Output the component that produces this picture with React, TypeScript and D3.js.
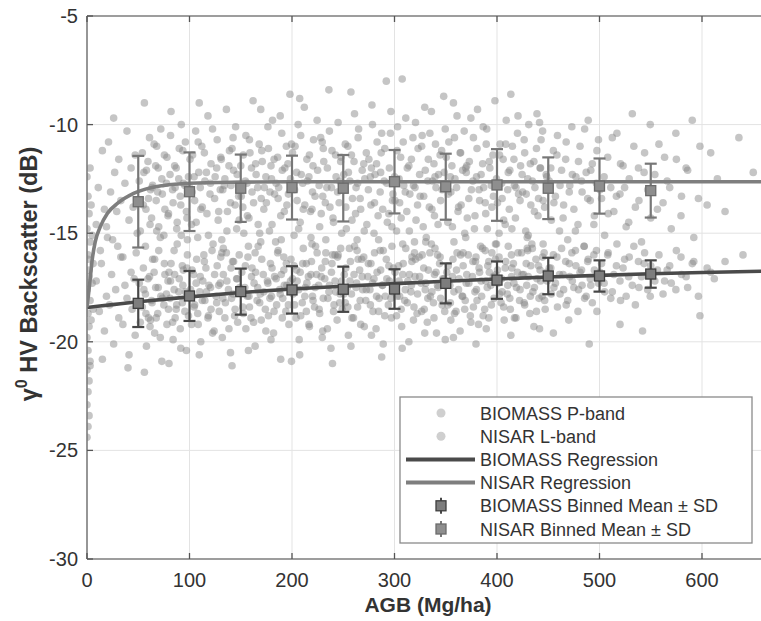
import React from "react";
import * as d3 from "d3";

const xTicks = [0, 100, 200, 300, 400, 500, 600];
const yTicks = [-30, -25, -20, -15, -10, -5];

const binX = [50, 100, 150, 200, 250, 300, 350, 400, 450, 500, 550];
const biomassMean = [-18.23, -17.89, -17.69, -17.61, -17.58, -17.57, -17.31, -17.16, -16.97, -16.97, -16.88];
const biomassSD = [1.09, 1.15, 1.06, 1.09, 1.04, 0.91, 0.92, 0.86, 0.84, 0.72, 0.63];
const nisarMean = [-13.55, -13.09, -12.93, -12.9, -12.93, -12.63, -12.86, -12.78, -12.93, -12.83, -13.04];
const nisarSD = [2.11, 1.81, 1.55, 1.47, 1.53, 1.46, 1.52, 1.65, 1.42, 1.27, 1.24];

const biomassRegX = [0, 25, 50, 100, 150, 200, 250, 300, 350, 400, 450, 500, 550, 600, 660];
const biomassRegY = [-18.42, -18.29, -18.16, -17.93, -17.73, -17.57, -17.44, -17.32, -17.21, -17.11, -17.02, -16.94, -16.87, -16.81, -16.75];
const nisarRegX = [0, 1.5, 3, 5, 8, 13, 20, 30, 46, 75, 100, 150, 200, 660];
const nisarRegY = [-18.4, -17.8, -17.15, -16.25, -15.4, -14.7, -14.08, -13.62, -13.16, -12.8, -12.7, -12.65, -12.63, -12.63];

const biomassPoints: [number, number][] = [
[1,-16.2],[2,-17.0],[0,-17.6],[3,-18.1],[1,-18.7],[2,-19.3],[0,-19.8],[1,-20.4],[3,-20.9],[0,-21.3],[2,-21.8],[1,-22.3],[0,-22.9],[2,-23.4],[1,-23.9],[4,-19.0],[5,-17.3],[3,-21.1],[0,-24.4],[6,-18.5],
[9,-17.2],[12,-18.6],[14,-16.4],[17,-19.5],[19,-17.9],[22,-18.3],[24,-16.9],[26,-20.1],[28,-17.6],[31,-18.9],[33,-16.1],[35,-19.2],[37,-17.4],[39,-18.0],[41,-20.6],[43,-16.8],[44,-18.5],[46,-17.1],[47,-19.7],[48,-15.9],[49,-18.2],[15,-20.8],[30,-15.6],[40,-21.2],[20,-15.2],
[51,-17.3],[52,-19.1],[54,-18.4],[55,-16.6],[57,-17.8],[58,-20.2],[60,-18.9],[61,-17.0],[63,-18.1],[64,-16.2],[66,-19.6],[67,-17.5],[69,-18.7],[70,-15.8],[72,-17.9],[73,-20.9],[75,-18.3],[76,-16.9],[78,-19.2],[79,-17.2],[81,-18.0],[82,-16.4],[84,-19.9],[85,-17.6],[87,-18.5],[88,-15.5],[90,-17.1],[91,-19.4],[93,-18.2],[94,-16.7],[96,-17.7],[97,-20.4],[99,-18.8],[98,-16.0],[56,-21.4],[68,-14.9],[80,-21.0],[92,-15.1],[62,-19.0],[86,-18.9],
[101,-17.6],[102,-19.2],[104,-16.9],[105,-18.3],[107,-16.2],[108,-18.7],[110,-17.7],[111,-20.0],[113,-17.2],[115,-18.1],[116,-16.6],[118,-18.9],[119,-17.4],[121,-18.5],[122,-15.8],[124,-19.5],
[126,-17.9],[127,-16.5],[129,-18.6],[130,-17.3],[132,-19.8],[133,-16.9],[135,-18.2],[136,-15.9],[138,-17.6],[140,-20.5],[141,-18.0],[143,-16.3],[144,-18.8],[146,-17.1],[147,-19.1],[149,-17.5],
[151,-16.8],[152,-18.4],[154,-17.5],[155,-19.4],[157,-16.1],[158,-17.9],[160,-18.9],[161,-16.6],[163,-17.3],[164,-20.2],[166,-18.1],[167,-15.6],[169,-17.8],[170,-19.0],[172,-16.9],[174,-18.5],
[176,-17.2],[177,-18.8],[179,-16.4],[180,-17.9],[182,-19.6],[183,-17.0],[185,-18.3],[186,-15.9],[188,-17.6],[189,-20.8],[191,-18.0],[192,-16.7],[194,-18.6],[195,-17.4],[197,-19.2],[199,-16.2],
[201,-17.8],[202,-16.5],[204,-18.9],[205,-17.2],[207,-19.9],[208,-16.8],[210,-18.2],[211,-15.7],[213,-17.5],[214,-18.6],[216,-17.0],[217,-19.3],[219,-16.3],[220,-17.9],[222,-18.4],[224,-16.9],
[226,-17.4],[227,-18.7],[229,-16.6],[230,-19.5],[232,-17.1],[233,-15.9],[235,-18.0],[236,-17.7],[238,-20.3],[239,-16.4],[241,-18.3],[242,-17.2],[244,-19.0],[245,-16.0],[247,-17.8],[249,-18.5],
[251,-16.9],[252,-18.2],[254,-17.5],[255,-19.7],[257,-16.3],[258,-17.8],[260,-18.9],[261,-15.6],[263,-17.3],[264,-18.4],[266,-16.7],[267,-19.2],[269,-17.6],[270,-16.1],[272,-18.1],[274,-17.0],
[276,-17.6],[277,-16.4],[279,-18.6],[280,-17.1],[282,-19.4],[283,-16.8],[285,-18.0],[286,-15.8],[288,-17.4],[289,-20.1],[291,-17.9],[292,-16.2],[294,-18.3],[295,-17.2],[297,-18.9],[299,-16.6],
[301,-17.5],[302,-18.8],[304,-16.5],[305,-17.9],[307,-19.3],[308,-16.9],[310,-18.1],[311,-15.7],[313,-17.2],[314,-20.0],[316,-17.7],[317,-16.3],[319,-18.4],[320,-17.0],[322,-18.7],[324,-16.1],
[326,-17.3],[327,-16.0],[329,-18.5],[330,-17.6],[332,-19.1],[333,-16.7],[335,-17.9],[336,-15.5],[338,-18.2],[339,-16.9],[341,-19.6],[342,-17.4],[344,-16.4],[345,-18.0],[347,-17.1],[349,-18.6],
[351,-16.8],[352,-18.3],[354,-17.4],[355,-19.0],[357,-16.2],[358,-17.7],[360,-18.6],[361,-15.9],[363,-17.1],[364,-19.5],[366,-17.9],[367,-16.5],[369,-18.1],[370,-17.3],[372,-16.0],[374,-18.8],
[376,-17.0],[377,-18.4],[379,-16.3],[380,-17.6],[382,-19.2],[383,-16.8],[385,-17.9],[386,-15.7],[388,-18.5],[389,-17.2],[391,-16.5],[392,-18.9],[394,-17.4],[395,-15.9],[397,-18.0],[399,-16.9],
[401,-17.3],[402,-16.1],[404,-18.2],[405,-17.7],[407,-19.0],[408,-16.6],[410,-17.8],[411,-15.6],[413,-18.5],[414,-17.0],[416,-16.4],[417,-18.9],[419,-17.5],[420,-16.8],[422,-18.1],[424,-15.9],
[426,-16.9],[427,-18.3],[429,-17.4],[430,-15.8],[432,-18.7],[433,-16.5],[435,-17.7],[436,-19.3],[438,-16.2],[439,-17.1],[441,-18.0],[442,-16.7],[444,-17.9],[445,-15.5],[447,-18.5],[449,-17.2],
[451,-16.6],[453,-17.8],[455,-16.0],[457,-17.3],[459,-18.4],[461,-16.9],[463,-15.7],[465,-17.6],[467,-16.3],[469,-18.1],[471,-17.0],[473,-15.9],[475,-17.5],[477,-16.5],[479,-18.6],[481,-16.8],[483,-17.4],[485,-15.6],[487,-17.9],[489,-16.2],[491,-17.1],[493,-18.2],[495,-16.7],[497,-15.8],[499,-17.3],[502,-16.4],[505,-17.7],[508,-16.0],[511,-18.0],[514,-16.9],[517,-15.5],[520,-17.2],[523,-16.6],[526,-17.9],[529,-16.1],[532,-17.4],[535,-18.3],[538,-16.3],[541,-17.0],[544,-15.9],[547,-17.6],[550,-16.5],[554,-17.2],[558,-16.0],[562,-17.8],[566,-16.7],[570,-17.3],[575,-15.8],[580,-16.9],[586,-17.5],[592,-16.3],[598,-18.8],[605,-16.6],[612,-17.1],[640,-16.0],
[455,-19.6],[520,-19.2],[542,-19.5],[490,-20.1],[470,-19.0]
];

const biomassPointsExtra: [number, number][] = [
[55.5,-17.6],[57.5,-18.7],[59.5,-17.1],[61.5,-19.3],[63.5,-18.2],[65.5,-16.8],[67.5,-18.9],[69.5,-17.5],[71.5,-19.8],[73.5,-18.0],[75.5,-16.4],[77.5,-17.8],[79.5,-18.5],[81.5,-17.2],[83.5,-19.1],[85.5,-16.9],[87.5,-18.3],[89.5,-17.7],[91.5,-20.3],[93.5,-17.4],[95.5,-18.6],[97.5,-16.6],
[100.5,-17.9],[102.5,-16.7],[104.5,-18.4],[106.5,-17.3],[108.5,-19.2],[110.5,-17.0],[112.5,-18.1],[114.5,-16.3],[116.5,-17.7],[118.5,-18.8],[120.5,-17.5],[122.5,-19.6],[124.5,-16.9],[126.5,-18.2],[128.5,-17.4],[130.5,-16.1],[132.5,-18.0],[134.5,-18.9],[136.5,-17.2],[138.5,-19.4],[140.5,-16.6],[142.5,-17.8],[144.5,-18.5],[146.5,-17.1],[148.5,-16.0],[109.5,-20.6],[131.5,-15.3],[141.5,-21.1],
[150.5,-17.6],[152.5,-18.7],[154.5,-16.5],[156.5,-17.9],[158.5,-18.4],[160.5,-17.0],[162.5,-19.1],[164.5,-16.8],[166.5,-17.5],[168.5,-18.2],[170.5,-16.2],[172.5,-17.7],[174.5,-19.5],[176.5,-17.3],[178.5,-18.0],[180.5,-16.6],[182.5,-18.6],[184.5,-17.1],[186.5,-15.8],[188.5,-17.8],[190.5,-18.9],[192.5,-17.4],[194.5,-16.4],[196.5,-18.3],[198.5,-17.2],[157.5,-20.4],[169.5,-15.4],[179.5,-19.9],[189.5,-16.9],[199.5,-20.9],
[200.5,-17.1],[202.5,-18.3],[204.5,-16.7],[206.5,-17.6],[208.5,-18.8],[210.5,-16.4],[212.5,-17.9],[214.5,-17.3],[216.5,-19.2],[218.5,-16.9],[220.5,-18.1],[222.5,-17.5],[224.5,-15.9],[226.5,-18.5],[228.5,-17.0],[230.5,-18.0],[232.5,-16.3],[234.5,-19.4],[236.5,-17.4],[238.5,-16.8],[240.5,-18.6],[242.5,-17.7],[244.5,-16.1],[246.5,-18.2],[248.5,-17.2],[207.5,-20.6],[219.5,-15.5],[229.5,-19.8],[239.5,-21.0],[247.5,-15.7],
[250.5,-17.8],[252.5,-16.6],[254.5,-18.4],[256.5,-17.2],[258.5,-18.9],[260.5,-16.9],[262.5,-17.5],[264.5,-16.2],[266.5,-18.1],[268.5,-17.0],[270.5,-19.3],[272.5,-17.6],[274.5,-16.4],[276.5,-18.3],[278.5,-17.3],[280.5,-15.9],[282.5,-17.9],[284.5,-18.6],[286.5,-16.7],[288.5,-17.4],[290.5,-18.8],[292.5,-17.1],[294.5,-16.5],[296.5,-18.0],[298.5,-17.7],[257.5,-20.2],[263.5,-15.3],[277.5,-19.7],[287.5,-20.7],[297.5,-15.6],
[300.5,-16.8],[302.5,-17.9],[304.5,-17.2],[306.5,-18.5],[308.5,-16.4],[310.5,-17.6],[312.5,-18.2],[314.5,-16.9],[316.5,-17.4],[318.5,-19.0],[320.5,-16.2],[322.5,-17.8],[324.5,-17.0],[326.5,-18.6],[328.5,-16.6],[330.5,-17.3],[332.5,-18.0],[334.5,-15.9],[336.5,-17.7],[338.5,-18.9],[340.5,-16.8],[342.5,-17.5],[344.5,-16.1],[346.5,-18.3],[348.5,-17.1],[307.5,-20.3],[319.5,-15.4],[329.5,-19.6],[339.5,-15.7],[349.5,-19.9],
[350.5,-17.4],[352.5,-16.5],[354.5,-18.2],[356.5,-17.0],[358.5,-18.7],[360.5,-16.7],[362.5,-17.6],[364.5,-16.0],[366.5,-17.9],[368.5,-18.5],[370.5,-16.9],[372.5,-17.3],[374.5,-19.1],[376.5,-16.3],[378.5,-17.7],[380.5,-18.1],[382.5,-16.6],[384.5,-17.2],[386.5,-18.8],[388.5,-15.8],[390.5,-17.5],[392.5,-16.8],[394.5,-18.3],[396.5,-17.0],[398.5,-16.2],[357.5,-19.8],[369.5,-15.2],[379.5,-20.1],[389.5,-19.4],[399.5,-15.5],
[400.5,-16.7],[402.5,-17.8],[404.5,-17.1],[406.5,-18.4],[408.5,-16.3],[410.5,-17.4],[412.5,-18.0],[414.5,-16.6],[416.5,-17.3],[418.5,-18.9],[420.5,-15.9],[422.5,-17.6],[424.5,-16.9],[426.5,-18.2],[428.5,-16.4],[430.5,-17.0],[432.5,-17.9],[434.5,-15.7],[436.5,-17.5],[438.5,-18.6],[440.5,-16.5],[442.5,-17.2],[444.5,-16.1],[446.5,-18.1],[448.5,-16.8],[413.5,-19.7],[429.5,-15.2],[441.5,-19.4],
[452.5,-16.6],[455.5,-17.5],[458.5,-16.1],[461.5,-17.8],[464.5,-16.9],[467.5,-18.3],[470.5,-16.4],[473.5,-17.2],[476.5,-15.8],[479.5,-17.6],[482.5,-16.7],[485.5,-18.0],[488.5,-16.3],[491.5,-17.4],[494.5,-16.0],[497.5,-18.6],[500.5,-16.8],[504.5,-17.3],[508.5,-15.9],[512.5,-17.7],[516.5,-16.5],[520.5,-18.1],[524.5,-16.2],[528.5,-17.0],[533.5,-15.6],[538.5,-17.5],[543.5,-16.4],[549.5,-17.9],[556.5,-16.7],[563.5,-17.2],
[568.5,-16.5],[574.5,-17.6],[579.5,-16.1],[584.5,-17.0],[590.5,-16.4],[596.5,-17.9],[608.5,-16.8],[622.5,-16.3]
];

const nisarPoints: [number, number][] = [
[0,-12.4],[1,-13.3],[2,-14.1],[0,-14.8],[3,-15.4],[1,-16.0],[2,-16.7],[0,-17.3],[4,-13.7],[5,-15.1],[3,-12.0],[6,-16.4],
[9,-14.6],[11,-12.9],[13,-15.8],[15,-11.2],[17,-13.9],[19,-14.7],[21,-10.8],[23,-13.1],[25,-15.3],[27,-12.2],[29,-14.0],[31,-11.6],[33,-13.5],[35,-16.1],[37,-12.7],[39,-10.3],[41,-14.4],[43,-12.0],[45,-13.8],[47,-11.4],[49,-15.0],[26,-9.7],
[51,-12.6],[52,-14.9],[54,-11.3],[55,-13.7],[57,-15.6],[58,-12.1],[60,-13.4],[61,-10.6],[63,-14.3],[64,-12.8],[66,-16.2],[67,-11.9],[69,-13.1],[70,-14.7],[72,-10.2],[73,-12.5],[75,-15.1],[76,-13.9],[78,-11.5],[79,-14.2],[81,-12.3],[82,-9.4],[84,-13.6],[85,-15.8],[87,-12.0],[88,-14.5],[90,-11.1],[91,-13.3],[93,-16.5],[94,-12.7],[96,-10.8],[97,-14.0],[99,-12.4],[98,-15.3],[56,-9.0],[68,-11.0],[80,-16.8],[92,-10.0],[62,-13.0],[86,-12.9],
[100,-12.9],[102,-14.6],[103,-11.4],[105,-13.5],[106,-10.3],[108,-15.2],[109,-12.2],[111,-13.9],[112,-11.0],[114,-16.0],[115,-12.6],[117,-14.1],[118,-9.6],[120,-13.2],[121,-11.8],[123,-15.5],
[125,-12.4],[127,-10.7],[128,-14.4],[130,-13.0],[131,-11.6],[133,-15.7],[134,-12.8],[136,-9.3],[137,-14.0],[139,-11.2],[140,-13.6],[142,-16.3],[143,-12.1],[145,-10.1],[146,-14.8],[148,-13.3],
[150,-11.9],[152,-13.8],[153,-15.0],[155,-10.5],[156,-12.7],[158,-14.3],[159,-11.3],[161,-13.1],[162,-8.9],[164,-15.9],[165,-12.3],[167,-14.6],[168,-10.9],[170,-13.4],[171,-11.7],[173,-12.9],
[175,-13.6],[177,-11.1],[178,-14.9],[180,-12.5],[181,-9.8],[183,-13.2],[184,-15.4],[186,-11.5],[187,-12.9],[189,-14.2],[190,-10.4],[192,-16.1],[193,-12.0],[195,-13.7],[196,-11.8],[198,-8.6],
[200,-12.8],[202,-15.1],[203,-11.0],[205,-13.5],[206,-10.0],[208,-14.5],[209,-12.3],[211,-13.9],[212,-9.2],[214,-16.4],[215,-12.6],[217,-11.4],[218,-14.0],[220,-13.1],[221,-10.7],[223,-15.6],
[225,-12.1],[227,-14.7],[228,-10.6],[230,-13.3],[231,-11.7],[233,-15.3],[234,-12.9],[236,-8.4],[237,-13.8],[239,-11.2],[240,-14.3],[242,-16.0],[243,-12.4],[245,-9.9],[246,-13.6],[248,-11.5],
[250,-13.0],[252,-10.9],[253,-14.8],[255,-12.2],[256,-15.7],[258,-11.4],[259,-13.4],[261,-9.5],[262,-14.1],[264,-12.7],[265,-10.2],[267,-13.9],[268,-16.2],[270,-11.8],[271,-12.5],[273,-14.6],
[275,-11.6],[277,-13.7],[278,-9.1],[280,-15.0],[281,-12.3],[283,-10.8],[284,-14.2],[286,-13.1],[287,-11.3],[289,-15.8],[290,-12.6],[292,-8.0],[293,-14.5],[295,-12.0],[296,-10.4],[298,-13.5],
[300,-12.4],[302,-14.9],[303,-10.1],[305,-13.6],[306,-11.5],[308,-15.5],[309,-12.8],[311,-9.7],[312,-14.0],[314,-11.9],[315,-13.2],[317,-16.1],[318,-10.6],[320,-12.9],[321,-14.4],[323,-11.1],
[325,-13.3],[327,-10.5],[328,-14.7],[330,-12.1],[331,-15.2],[333,-11.6],[334,-13.8],[336,-9.4],[337,-12.6],[339,-14.2],[340,-10.9],[342,-16.0],[343,-12.3],[345,-13.5],[346,-11.2],[348,-8.7],
[350,-12.8],[352,-14.5],[353,-10.8],[355,-13.1],[356,-11.9],[358,-15.4],[359,-12.5],[361,-9.6],[362,-14.0],[364,-11.3],[365,-13.7],[367,-15.9],[368,-10.3],[370,-12.2],[371,-14.3],[373,-11.7],
[375,-13.0],[377,-10.6],[378,-14.8],[380,-12.4],[381,-9.3],[383,-13.5],[384,-15.6],[386,-11.8],[387,-12.9],[389,-14.1],[390,-10.2],[392,-16.3],[393,-12.0],[395,-13.8],[396,-11.4],[398,-8.9],
[400,-12.7],[402,-15.0],[403,-10.9],[405,-13.4],[406,-11.6],[408,-14.6],[409,-9.8],[411,-12.2],[412,-13.9],[414,-16.0],[415,-11.0],[417,-12.8],[418,-14.3],[420,-10.4],[421,-13.2],[423,-11.9],
[425,-13.1],[427,-11.3],[428,-14.9],[430,-12.5],[431,-10.0],[433,-13.7],[434,-15.5],[436,-11.7],[437,-12.9],[439,-9.5],[440,-14.2],[442,-12.0],[443,-10.7],[445,-13.5],[446,-15.9],[448,-12.3],
[451,-12.6],[453,-14.4],[455,-11.2],[457,-13.3],[459,-10.5],[461,-14.9],[463,-12.1],[465,-13.7],[467,-11.6],[469,-15.3],[471,-12.8],[473,-10.1],[475,-13.9],[477,-12.4],[479,-14.6],[481,-11.0],[483,-13.1],[485,-15.6],[487,-12.2],[489,-9.8],[491,-13.5],[493,-11.8],[495,-14.2],[497,-12.7],[499,-10.7],[502,-13.4],[505,-15.1],[508,-11.5],[511,-12.9],[514,-14.0],[517,-10.4],[520,-13.2],[523,-11.9],[526,-14.7],[529,-12.5],[532,-9.5],[535,-13.8],[538,-12.0],[541,-15.4],[544,-11.3],[547,-13.0],[550,-14.3],[554,-12.3],[558,-10.9],[562,-13.6],[566,-12.6],[570,-14.8],[575,-11.6],[580,-13.3],[586,-12.1],[592,-15.2],[598,-11.0],[605,-13.7],[615,-12.5],[636,-10.6],[650,-12.2]
];

const nisarPointsExtra: [number, number][] = [
[55.5,-12.2],[57.5,-13.9],[59.5,-11.7],[61.5,-14.6],[63.5,-12.9],[65.5,-10.9],[67.5,-13.5],[69.5,-12.0],[71.5,-15.2],[73.5,-13.2],[75.5,-11.4],[77.5,-12.7],[79.5,-14.1],[81.5,-10.5],[83.5,-13.0],[85.5,-11.9],[87.5,-14.8],[89.5,-12.5],[91.5,-13.7],[93.5,-11.2],[95.5,-12.8],[97.5,-14.3],
[100.5,-11.6],[102.5,-13.1],[104.5,-12.4],[106.5,-14.5],[108.5,-10.8],[110.5,-12.9],[112.5,-13.8],[114.5,-11.3],[116.5,-12.2],[118.5,-15.1],[120.5,-12.7],[122.5,-10.2],[124.5,-13.4],[126.5,-12.0],[128.5,-14.0],[130.5,-11.5],[132.5,-13.0],[134.5,-12.5],[136.5,-14.9],[138.5,-11.9],[140.5,-12.8],[142.5,-10.6],[144.5,-13.7],[146.5,-12.3],[148.5,-14.4],[109.5,-9.0],[131.5,-15.9],[141.5,-11.1],
[150.5,-13.3],[152.5,-11.4],[154.5,-12.6],[156.5,-14.2],[158.5,-10.7],[160.5,-12.0],[162.5,-13.6],[164.5,-11.8],[166.5,-12.9],[168.5,-15.0],[170.5,-11.2],[172.5,-13.9],[174.5,-12.4],[176.5,-10.1],[178.5,-13.1],[180.5,-14.6],[182.5,-11.6],[184.5,-12.7],[186.5,-13.4],[188.5,-9.6],[190.5,-12.1],[192.5,-14.0],[194.5,-11.0],[196.5,-13.2],[198.5,-12.5],[157.5,-15.6],[169.5,-9.3],[179.5,-11.9],[189.5,-15.3],[199.5,-10.9],
[200.5,-11.3],[202.5,-13.0],[204.5,-12.2],[206.5,-14.8],[208.5,-10.5],[210.5,-12.7],[212.5,-13.7],[214.5,-11.6],[216.5,-12.4],[218.5,-15.2],[220.5,-11.9],[222.5,-13.3],[224.5,-9.8],[226.5,-12.8],[228.5,-14.1],[230.5,-11.1],[232.5,-13.6],[234.5,-12.0],[236.5,-10.3],[238.5,-12.9],[240.5,-14.5],[242.5,-11.4],[244.5,-13.1],[246.5,-12.6],[248.5,-15.0],[207.5,-8.8],[219.5,-13.9],[229.5,-10.8],[239.5,-16.0],[247.5,-11.7],
[250.5,-12.3],[252.5,-13.8],[254.5,-11.0],[256.5,-12.6],[258.5,-14.4],[260.5,-11.7],[262.5,-12.9],[264.5,-10.6],[266.5,-13.4],[268.5,-12.1],[270.5,-14.9],[272.5,-11.3],[274.5,-13.0],[276.5,-12.4],[278.5,-10.0],[280.5,-13.6],[282.5,-11.8],[284.5,-15.3],[286.5,-12.2],[288.5,-13.9],[290.5,-11.1],[292.5,-12.7],[294.5,-14.1],[296.5,-9.4],[298.5,-13.2],[257.5,-8.5],[263.5,-15.8],[277.5,-12.0],[287.5,-10.4],[297.5,-14.7],
[300.5,-13.5],[302.5,-11.2],[304.5,-12.5],[306.5,-14.3],[308.5,-10.8],[310.5,-13.1],[312.5,-12.0],[314.5,-14.9],[316.5,-11.6],[318.5,-12.8],[320.5,-9.9],[322.5,-13.7],[324.5,-12.3],[326.5,-11.0],[328.5,-13.3],[330.5,-15.4],[332.5,-12.6],[334.5,-10.4],[336.5,-13.9],[338.5,-11.8],[340.5,-12.9],[342.5,-14.6],[344.5,-11.4],[346.5,-13.0],[348.5,-12.2],[307.5,-7.9],[319.5,-15.9],[329.5,-9.2],[339.5,-12.4],[349.5,-10.2],
[350.5,-11.5],[352.5,-13.2],[354.5,-12.4],[356.5,-14.7],[358.5,-10.6],[360.5,-12.9],[362.5,-13.8],[364.5,-11.3],[366.5,-12.1],[368.5,-15.0],[370.5,-11.9],[372.5,-13.4],[374.5,-9.7],[376.5,-12.6],[378.5,-14.2],[380.5,-11.1],[382.5,-13.0],[384.5,-12.3],[386.5,-10.1],[388.5,-13.6],[390.5,-14.8],[392.5,-11.7],[394.5,-12.8],[396.5,-13.3],[398.5,-15.5],[357.5,-9.0],[369.5,-12.0],[379.5,-16.1],[389.5,-10.9],[399.5,-12.5],
[400.5,-13.6],[402.5,-11.4],[404.5,-12.7],[406.5,-14.4],[408.5,-10.9],[410.5,-13.0],[412.5,-12.1],[414.5,-14.8],[416.5,-11.6],[418.5,-12.9],[420.5,-9.6],[422.5,-13.5],[424.5,-12.3],[426.5,-10.7],[428.5,-13.2],[430.5,-15.1],[432.5,-11.8],[434.5,-12.6],[436.5,-14.0],[438.5,-11.1],[440.5,-13.4],[442.5,-12.0],[444.5,-10.3],[446.5,-13.8],[448.5,-12.4],[413.5,-8.6],[429.5,-15.7],[441.5,-9.9],
[452.5,-12.0],[455.5,-13.6],[458.5,-11.4],[461.5,-12.8],[464.5,-14.3],[467.5,-10.8],[470.5,-13.1],[473.5,-12.3],[476.5,-14.9],[479.5,-11.7],[482.5,-12.6],[485.5,-10.2],[488.5,-13.4],[491.5,-12.1],[494.5,-14.6],[497.5,-11.2],[500.5,-13.0],[504.5,-12.4],[508.5,-14.1],[512.5,-10.6],[516.5,-13.3],[520.5,-11.8],[524.5,-12.9],[528.5,-14.5],[533.5,-11.0],[538.5,-13.5],[543.5,-12.2],[549.5,-10.0],[556.5,-13.9],[563.5,-11.5],
[568.5,-12.9],[574.5,-10.4],[579.5,-14.2],[584.5,-12.0],[590.5,-9.8],[596.5,-13.4],[608.5,-11.3],[622.5,-14.0]
];

const legendLabels = [
  "BIOMASS P-band",
  "NISAR L-band",
  "BIOMASS Regression",
  "NISAR Regression",
  "BIOMASS Binned Mean \u00b1 SD",
  "NISAR Binned Mean \u00b1 SD",
];

const FONT = "'Liberation Sans', Arial, Helvetica, sans-serif";

export default function App() {
  const W = 761, H = 621;
  const left = 87, top = 16, bottom = 559, right = 764;
  const x = d3.scaleLinear().domain([0, 660]).range([left, left + 6.6 * 102.5]);
  const y = d3.scaleLinear().domain([-30, -5]).range([bottom, top]);

  const line = d3.line<[number, number]>().x(d => x(d[0])).y(d => y(d[1])).curve(d3.curveMonotoneX);
  const bReg = line(biomassRegX.map((v, i) => [v, biomassRegY[i]] as [number, number])) || "";
  const nReg = line(nisarRegX.map((v, i) => [v, nisarRegY[i]] as [number, number])) || "";

  const allBiomass = biomassPoints.concat(biomassPointsExtra);
  const allNisar = nisarPoints.concat(nisarPointsExtra);

  const dotFill = "#868686";
  const dotOpacity = 0.48;
  const dotR = 3.8;
  const axisColor = "#7c7c7c";
  const bColor = "#4a4a4a";
  const nColor = "#7e7e7e";

  const errBars = (means: number[], sds: number[], color: string, fill: string, stroke: string, key: string) => (
    <g key={key}>
      {binX.map((bx, i) => {
        const cx = x(bx);
        const y1 = y(means[i] + sds[i]);
        const y2 = y(means[i] - sds[i]);
        return (
          <g key={i}>
            <line x1={cx} x2={cx} y1={y1} y2={y2} stroke={color} strokeWidth={2.2} />
            <line x1={cx - 6} x2={cx + 6} y1={y1} y2={y1} stroke={color} strokeWidth={2.2} />
            <line x1={cx - 6} x2={cx + 6} y1={y2} y2={y2} stroke={color} strokeWidth={2.2} />
          </g>
        );
      })}
      {binX.map((bx, i) => (
        <rect key={"m" + i} x={x(bx) - 5} y={y(means[i]) - 5} width={10} height={10} fill={fill} stroke={stroke} strokeWidth={1.3} />
      ))}
    </g>
  );

  const lx = 400, ly = 397, lw = 352, lh = 146;
  const rowY = (i: number) => 413 + i * 23.2;

  return (
    <svg width={W} height={H} style={{ position: "absolute", left: 0, top: 0, background: "#fff" }} fontFamily={FONT}>
      <rect x={0} y={0} width={W} height={H} fill="#fff" />
      <defs>
        <clipPath id="plotClip">
          <rect x={left} y={top} width={right - left} height={bottom - top} />
        </clipPath>
      </defs>
      <g stroke="#e3e3e3" strokeWidth={1}>
        {xTicks.filter(t => t > 0).map(t => (
          <line key={"gx" + t} x1={x(t)} x2={x(t)} y1={top} y2={bottom} />
        ))}
        {yTicks.filter(t => t > -30 && t < -5).map(t => (
          <line key={"gy" + t} x1={left} x2={right} y1={y(t)} y2={y(t)} />
        ))}
      </g>
      <g clipPath="url(#plotClip)">
        {allBiomass.map((p, i) => (
          <circle key={"b" + i} cx={x(p[0])} cy={y(p[1])} r={dotR} fill={dotFill} fillOpacity={dotOpacity} />
        ))}
        {allNisar.map((p, i) => (
          <circle key={"n" + i} cx={x(p[0])} cy={y(p[1])} r={dotR} fill={dotFill} fillOpacity={dotOpacity} />
        ))}
        <path d={bReg} fill="none" stroke={bColor} strokeWidth={3.6} />
        <path d={nReg} fill="none" stroke={nColor} strokeWidth={3.6} />
        {errBars(nisarMean, nisarSD, "#777777", "#8e8e8e", "#6c6c6c", "ne")}
        {errBars(biomassMean, biomassSD, "#474747", "#7d7d7d", "#3f3f3f", "be")}
      </g>
      <g stroke={axisColor} strokeWidth={1.6} fill="none">
        <line x1={left} x2={right} y1={top} y2={top} />
        <line x1={left} x2={right} y1={bottom} y2={bottom} />
        <line x1={left} x2={left} y1={top} y2={bottom} />
      </g>
      <g stroke="#555" strokeWidth={1.3}>
        {xTicks.map(t => (
          <g key={"tx" + t}>
            <line x1={x(t)} x2={x(t)} y1={bottom} y2={bottom - 6} />
            <line x1={x(t)} x2={x(t)} y1={top} y2={top + 6} />
          </g>
        ))}
        {yTicks.map(t => (
          <line key={"ty" + t} x1={left} x2={left + 6} y1={y(t)} y2={y(t)} />
        ))}
      </g>
      <g fill="#333" fontSize={20}>
        {xTicks.map(t => (
          <text key={"lx" + t} x={x(t)} y={bottom + 28} textAnchor="middle">{String(t)}</text>
        ))}
        {yTicks.map(t => (
          <text key={"ly" + t} x={left - 9} y={y(t) + 7} textAnchor="end">{String(t)}</text>
        ))}
      </g>
      <text x={428} y={612} textAnchor="middle" fontSize={21} fontWeight="bold" fill="#333">AGB (Mg/ha)</text>
      <text transform={`translate(37, 274) rotate(-90)`} textAnchor="middle" fontSize={23.5} fontWeight="bold" fill="#333">
        <tspan>γ</tspan>
        <tspan fontSize={16} dy={-10}>0</tspan>
        <tspan dy={10}> HV Backscatter (dB)</tspan>
      </text>
      <rect x={lx} y={ly} width={lw} height={lh} fill="#fff" stroke="#8a8a8a" strokeWidth={1.3} />
      <circle cx={441} cy={rowY(0)} r={4.5} fill="#cfcfcf" />
      <circle cx={441} cy={rowY(1)} r={4.5} fill="#cfcfcf" />
      <line x1={406} x2={475} y1={rowY(2)} y2={rowY(2)} stroke={bColor} strokeWidth={4} />
      <line x1={406} x2={475} y1={rowY(3)} y2={rowY(3)} stroke={nColor} strokeWidth={4} />
      <line x1={441} x2={441} y1={rowY(4) - 8} y2={rowY(4) + 8} stroke="#474747" strokeWidth={2} />
      <rect x={436} y={rowY(4) - 5} width={10} height={10} fill="#7d7d7d" stroke="#3f3f3f" strokeWidth={1.3} />
      <line x1={441} x2={441} y1={rowY(5) - 8} y2={rowY(5) + 8} stroke="#777" strokeWidth={2} />
      <rect x={436} y={rowY(5) - 5} width={10} height={10} fill="#8e8e8e" stroke="#6c6c6c" strokeWidth={1.3} />
      <g fontSize={18} fill="#333">
        {legendLabels.map((l, i) => (
          <text key={"lg" + i} x={480} y={rowY(i) + 6.5}>{l}</text>
        ))}
      </g>
    </svg>
  );
}
